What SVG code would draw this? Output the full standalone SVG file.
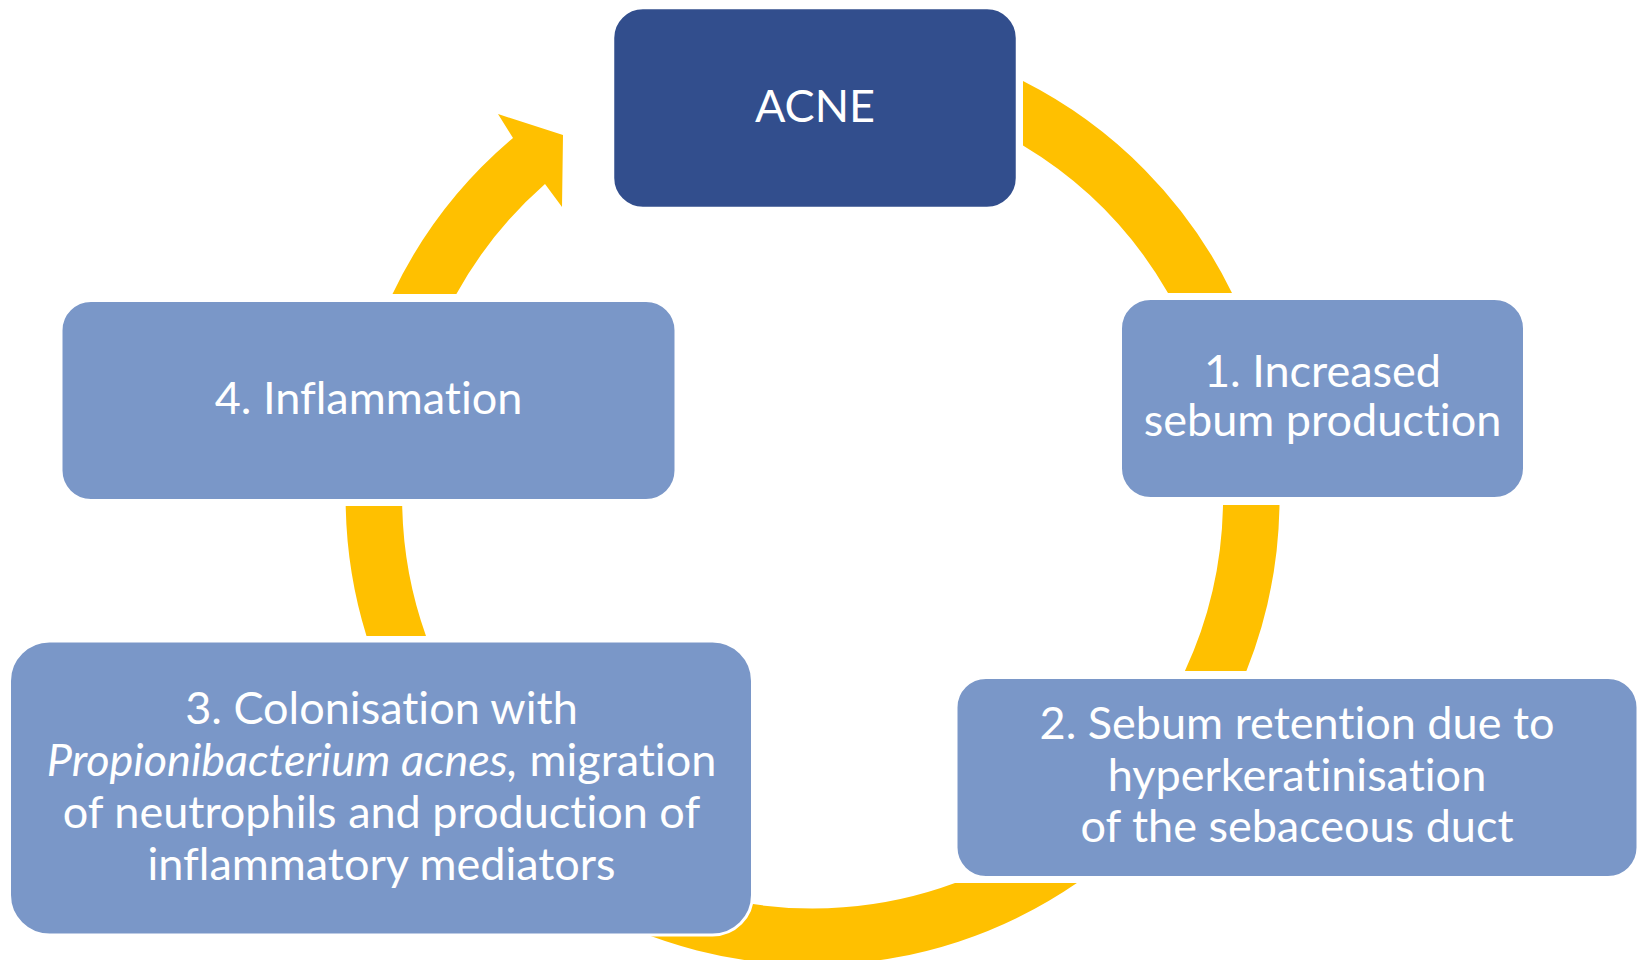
<svg xmlns="http://www.w3.org/2000/svg" width="1642" height="960" viewBox="0 0 1642 960">
  <style>
    .arc { fill: #FFC000; stroke: none; }
    .box { fill: #7A97C8; stroke: #FFFFFF; stroke-width: 3; }
    .main { fill: #324E8D; stroke: #FFFFFF; stroke-width: 2.5; }
    .t { font-family: Lato, "Open Sans", "Liberation Sans", sans-serif; font-size: 45px; fill: #FFFFFF; text-anchor: middle; font-variant-ligatures: none; font-feature-settings: "liga" 0, "dlig" 0; }
    .it { font-style: italic; }
  </style>
  <rect x="0" y="0" width="1642" height="960" fill="#FFFFFF"/>
  <g id="connectors">
    <path class="arc" d="M 1023,81 A 467 467 0 0 1 1232,293 L 1168,293 A 410.5 410.5 0 0 0 1023,145.5 Z"/>
    <path class="arc" d="M 1279.5,505 A 467 467 0 0 1 1246.4,671 L 1184.9,671 A 410.5 410.5 0 0 0 1223,505 Z"/>
    <path class="arc" d="M 1076.9,883 A 467 467 0 0 1 574.9,900 L 729.5,900 A 410.5 410.5 0 0 0 955,883 Z"/>
    <path class="arc" d="M 366.5,636 A 467 467 0 0 1 345.7,506 L 402.2,506 A 410.5 410.5 0 0 0 426,636 Z"/>
    <path class="arc" d="M 392.5,294 A 467 467 0 0 1 513,138 L 498,114 L 563,135 L 562,207 L 545,184 A 410.5 410.5 0 0 0 456.4,294 Z"/>
  </g>
  <g id="node-acne">
    <rect class="main" x="613" y="8" width="404" height="200" rx="30" ry="30"/>
    <text class="t" x="815" y="121.5">ACNE</text>
  </g>
  <g id="node-1">
    <rect class="box" x="1120.5" y="298.5" width="404" height="200" rx="30" ry="30"/>
    <text class="t" x="1322.5" y="386.5">1. Increased</text>
    <text class="t" x="1322.5" y="435.5">sebum production</text>
  </g>
  <g id="node-2">
    <rect class="box" x="956" y="677.5" width="682" height="200" rx="30" ry="30"/>
    <text class="t" x="1297" y="739">2. Sebum retention due to</text>
    <text class="t" x="1297" y="790.5">hyperkeratinisation</text>
    <text class="t" x="1297" y="842">of the sebaceous duct</text>
  </g>
  <g id="node-3">
    <rect class="box" x="9.5" y="641" width="743" height="294" rx="40" ry="40"/>
    <text class="t" x="381.5" y="724">3. Colonisation with</text>
    <text class="t" x="381.5" y="776"><tspan class="it">Propionibacterium acnes,</tspan> migration</text>
    <text class="t" x="381.5" y="828">of neutrophils and production of</text>
    <text class="t" x="381.5" y="879.5">inflammatory mediators</text>
  </g>
  <g id="node-4">
    <rect class="box" x="61" y="300.5" width="615" height="200" rx="30" ry="30"/>
    <text class="t" x="368.5" y="414">4. Inflammation</text>
  </g>
</svg>
